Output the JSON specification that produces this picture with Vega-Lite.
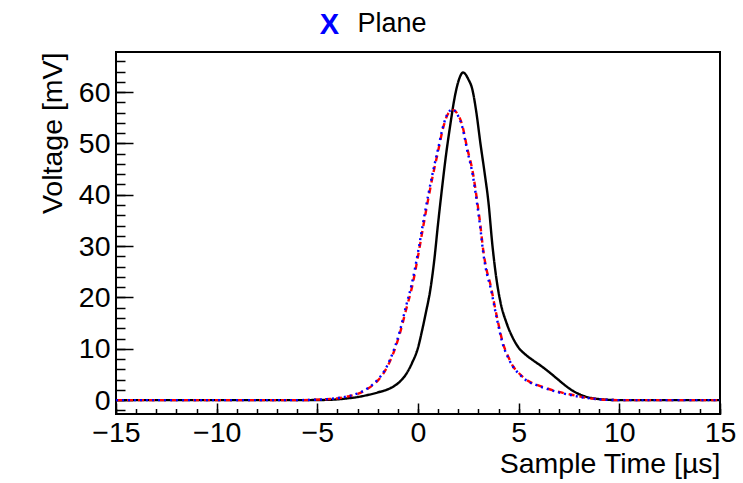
{
  "$schema": "https://vega.github.io/schema/vega-lite/v6.json",
  "width": 604,
  "height": 362,
  "autosize": {"type": "none"},
  "padding": {"left": 116, "top": 52, "right": 23, "bottom": 69},
  "background": "white",
  "config": {
    "view": {"stroke": "black", "strokeWidth": 2},
    "font": "Liberation Sans"
  },
  "datasets": {
    "curves": [
      {"series": "black", "t": -15, "v": 0},
      {"series": "black", "t": -10, "v": 0},
      {"series": "black", "t": -6, "v": 0},
      {"series": "black", "t": -4.5, "v": 0.05},
      {"series": "black", "t": -4, "v": 0.15},
      {"series": "black", "t": -3.5, "v": 0.35},
      {"series": "black", "t": -3, "v": 0.6},
      {"series": "black", "t": -2.5, "v": 1.0},
      {"series": "black", "t": -2, "v": 1.5},
      {"series": "black", "t": -1.5, "v": 2.1},
      {"series": "black", "t": -1.2, "v": 2.7},
      {"series": "black", "t": -0.9, "v": 3.6},
      {"series": "black", "t": -0.6, "v": 5.0},
      {"series": "black", "t": -0.3, "v": 7.2},
      {"series": "black", "t": 0, "v": 10.2},
      {"series": "black", "t": 0.2, "v": 13.5},
      {"series": "black", "t": 0.4, "v": 17.2},
      {"series": "black", "t": 0.6, "v": 21.2},
      {"series": "black", "t": 0.8, "v": 27},
      {"series": "black", "t": 1.0, "v": 34.5},
      {"series": "black", "t": 1.2, "v": 41.5},
      {"series": "black", "t": 1.4, "v": 48},
      {"series": "black", "t": 1.6, "v": 53.5},
      {"series": "black", "t": 1.8, "v": 58.5},
      {"series": "black", "t": 2.0, "v": 62},
      {"series": "black", "t": 2.24, "v": 63.8},
      {"series": "black", "t": 2.5, "v": 62.5},
      {"series": "black", "t": 2.7, "v": 60.5},
      {"series": "black", "t": 2.9, "v": 56},
      {"series": "black", "t": 3.1, "v": 50},
      {"series": "black", "t": 3.3, "v": 44.5},
      {"series": "black", "t": 3.5, "v": 38.5},
      {"series": "black", "t": 3.7, "v": 30},
      {"series": "black", "t": 3.9, "v": 23.5},
      {"series": "black", "t": 4.1, "v": 19},
      {"series": "black", "t": 4.4, "v": 15},
      {"series": "black", "t": 4.7, "v": 12.2},
      {"series": "black", "t": 5.0, "v": 10.2},
      {"series": "black", "t": 5.3, "v": 9.0},
      {"series": "black", "t": 5.7, "v": 7.8},
      {"series": "black", "t": 6.1, "v": 6.7},
      {"series": "black", "t": 6.5, "v": 5.5},
      {"series": "black", "t": 6.9, "v": 4.2},
      {"series": "black", "t": 7.3, "v": 2.9},
      {"series": "black", "t": 7.7, "v": 1.8},
      {"series": "black", "t": 8.1, "v": 1.0},
      {"series": "black", "t": 8.5, "v": 0.5},
      {"series": "black", "t": 9.0, "v": 0.2},
      {"series": "black", "t": 9.5, "v": 0.05},
      {"series": "black", "t": 10, "v": 0},
      {"series": "black", "t": 15, "v": 0},
      {"series": "red", "t": -15, "v": 0},
      {"series": "red", "t": -6, "v": 0},
      {"series": "red", "t": -5, "v": 0.1},
      {"series": "red", "t": -4.5, "v": 0.2},
      {"series": "red", "t": -4, "v": 0.35},
      {"series": "red", "t": -3.5, "v": 0.7},
      {"series": "red", "t": -3, "v": 1.2},
      {"series": "red", "t": -2.5, "v": 2.2},
      {"series": "red", "t": -2, "v": 3.8},
      {"series": "red", "t": -1.7, "v": 5.3},
      {"series": "red", "t": -1.4, "v": 7.5},
      {"series": "red", "t": -1.1, "v": 10.5},
      {"series": "red", "t": -0.9, "v": 13},
      {"series": "red", "t": -0.6, "v": 17.5},
      {"series": "red", "t": -0.3, "v": 22},
      {"series": "red", "t": 0, "v": 28},
      {"series": "red", "t": 0.2, "v": 32.5},
      {"series": "red", "t": 0.5, "v": 39},
      {"series": "red", "t": 0.75, "v": 44},
      {"series": "red", "t": 1.0, "v": 48.5},
      {"series": "red", "t": 1.26, "v": 53.2},
      {"series": "red", "t": 1.5, "v": 55.8},
      {"series": "red", "t": 1.74, "v": 56.5},
      {"series": "red", "t": 2.0, "v": 55.5},
      {"series": "red", "t": 2.2, "v": 53.5},
      {"series": "red", "t": 2.43, "v": 49.3},
      {"series": "red", "t": 2.73, "v": 44.2},
      {"series": "red", "t": 2.93, "v": 39},
      {"series": "red", "t": 3.1, "v": 34},
      {"series": "red", "t": 3.23, "v": 29.5},
      {"series": "red", "t": 3.4, "v": 25.5},
      {"series": "red", "t": 3.58, "v": 22.8},
      {"series": "red", "t": 3.92, "v": 16.2},
      {"series": "red", "t": 4.22, "v": 11.1},
      {"series": "red", "t": 4.5, "v": 8.3},
      {"series": "red", "t": 4.72, "v": 6.6},
      {"series": "red", "t": 5.0, "v": 5.3},
      {"series": "red", "t": 5.4, "v": 3.9},
      {"series": "red", "t": 5.9, "v": 3.0},
      {"series": "red", "t": 6.4, "v": 2.3},
      {"series": "red", "t": 7.0, "v": 1.6},
      {"series": "red", "t": 7.7, "v": 1.0},
      {"series": "red", "t": 8.3, "v": 0.5},
      {"series": "red", "t": 8.9, "v": 0.2},
      {"series": "red", "t": 9.5, "v": 0.05},
      {"series": "red", "t": 10, "v": 0},
      {"series": "red", "t": 15, "v": 0},
      {"series": "blue", "t": -15, "v": 0},
      {"series": "blue", "t": -6, "v": 0},
      {"series": "blue", "t": -5, "v": 0.1},
      {"series": "blue", "t": -4.5, "v": 0.2},
      {"series": "blue", "t": -4, "v": 0.4},
      {"series": "blue", "t": -3.5, "v": 0.75},
      {"series": "blue", "t": -3, "v": 1.3},
      {"series": "blue", "t": -2.5, "v": 2.3},
      {"series": "blue", "t": -2, "v": 4.0},
      {"series": "blue", "t": -1.7, "v": 5.5},
      {"series": "blue", "t": -1.4, "v": 7.8},
      {"series": "blue", "t": -1.1, "v": 10.9},
      {"series": "blue", "t": -0.9, "v": 13.5},
      {"series": "blue", "t": -0.6, "v": 18.2},
      {"series": "blue", "t": -0.3, "v": 22.8},
      {"series": "blue", "t": 0, "v": 28.8},
      {"series": "blue", "t": 0.2, "v": 33.3},
      {"series": "blue", "t": 0.5, "v": 39.8},
      {"series": "blue", "t": 0.75, "v": 44.6},
      {"series": "blue", "t": 1.0, "v": 49},
      {"series": "blue", "t": 1.26, "v": 53.5},
      {"series": "blue", "t": 1.5, "v": 56},
      {"series": "blue", "t": 1.72, "v": 56.6},
      {"series": "blue", "t": 2.0, "v": 55.3},
      {"series": "blue", "t": 2.2, "v": 53.2},
      {"series": "blue", "t": 2.43, "v": 48.9},
      {"series": "blue", "t": 2.73, "v": 43.6},
      {"series": "blue", "t": 2.93, "v": 38.4},
      {"series": "blue", "t": 3.1, "v": 33.4},
      {"series": "blue", "t": 3.23, "v": 29},
      {"series": "blue", "t": 3.4, "v": 25},
      {"series": "blue", "t": 3.58, "v": 22.3},
      {"series": "blue", "t": 3.92, "v": 15.8},
      {"series": "blue", "t": 4.22, "v": 10.8},
      {"series": "blue", "t": 4.5, "v": 8.1},
      {"series": "blue", "t": 4.72, "v": 6.5},
      {"series": "blue", "t": 5.0, "v": 5.2},
      {"series": "blue", "t": 5.4, "v": 3.8},
      {"series": "blue", "t": 5.9, "v": 2.9},
      {"series": "blue", "t": 6.4, "v": 2.2},
      {"series": "blue", "t": 7.0, "v": 1.5},
      {"series": "blue", "t": 7.7, "v": 0.9},
      {"series": "blue", "t": 8.3, "v": 0.45},
      {"series": "blue", "t": 8.9, "v": 0.2},
      {"series": "blue", "t": 9.5, "v": 0.05},
      {"series": "blue", "t": 10, "v": 0},
      {"series": "blue", "t": 15, "v": 0}
    ]
  },
  "data": {"name": "curves"},
  "layer": [
    {
      "mark": {"type": "line", "strokeWidth": 2.4, "interpolate": "monotone"},
      "encoding": {
        "x": {
          "field": "t", "type": "quantitative",
          "scale": {"domain": [-15, 15], "nice": false, "zero": false},
          "axis": {
            "orient": "bottom",
            "values": [-15, -10, -5, 0, 5, 10, 15],
            "tickSize": -11, "tickWidth": 1.5, "tickColor": "black",
            "domain": false, "grid": false,
            "labelFontSize": 28.5, "labelPadding": 15, "labelColor": "black",
            "labelFont": "Liberation Sans", "labelFlush": false, "labelOverlap": false,
            "title": "Sample Time [µs]",
            "titleFont": "Liberation Sans", "titleFontSize": 28.5, "titleFontWeight": "normal",
            "titleColor": "black", "titleAlign": "right", "titleAnchor": "end",
            "titleX": 604, "titleY": 58, "titleBaseline": "alphabetic"
          }
        },
        "y": {
          "field": "v", "type": "quantitative",
          "scale": {"domain": [-2.7, 67.8], "nice": false, "zero": false},
          "axis": {
            "orient": "left",
            "values": [0, 10, 20, 30, 40, 50, 60],
            "tickSize": -17, "tickWidth": 1.5, "tickColor": "black",
            "domain": false, "grid": false,
            "labelFontSize": 28.5, "labelPadding": 23, "labelColor": "black",
            "labelFont": "Liberation Sans", "labelFlush": false, "labelOverlap": false,
            "title": "Voltage [mV]",
            "titleFont": "Liberation Sans", "titleFontSize": 28.5, "titleFontWeight": "normal",
            "titleColor": "black", "titleAngle": -90, "titleAlign": "right",
            "titleX": -55, "titleY": 0, "titleBaseline": "alphabetic"
          }
        },
        "color": {
          "field": "series", "type": "nominal",
          "scale": {"domain": ["black", "red", "blue"], "range": ["#000000", "#ff0000", "#0000ff"]},
          "legend": null
        },
        "strokeDash": {
          "field": "series", "type": "nominal",
          "scale": {"domain": ["black", "red", "blue"], "range": [[1, 0], [6, 5], [2, 4]]},
          "legend": null
        }
      }
    },
    {
      "mark": {"type": "line", "opacity": 0},
      "encoding": {
        "x": {
          "field": "t", "type": "quantitative",
          "axis": {
            "orient": "bottom",
            "values": [-15, -14, -13, -12, -11, -10, -9, -8, -7, -6, -5, -4, -3, -2, -1, 0, 1, 2, 3, 4, 5, 6, 7, 8, 9, 10, 11, 12, 13, 14, 15],
            "tickSize": -5.5, "tickWidth": 1.5, "tickColor": "black",
            "labels": false, "domain": false, "grid": false, "title": null
          }
        },
        "y": {
          "field": "v", "type": "quantitative",
          "axis": {
            "orient": "left",
            "values": [-2, 0, 2, 4, 6, 8, 10, 12, 14, 16, 18, 20, 22, 24, 26, 28, 30, 32, 34, 36, 38, 40, 42, 44, 46, 48, 50, 52, 54, 56, 58, 60, 62, 64, 66],
            "tickSize": -9, "tickWidth": 1.5, "tickColor": "black",
            "labels": false, "domain": false, "grid": false, "title": null
          }
        },
        "detail": {"field": "series", "type": "nominal"}
      }
    },
    {
      "mark": {"type": "line", "opacity": 0},
      "encoding": {
        "x": {
          "field": "t", "type": "quantitative",
          "axis": {
            "orient": "top",
            "labels": false, "ticks": false, "domain": false, "grid": false,
            "title": "X",
            "titleFont": "Liberation Sans", "titleFontSize": 29, "titleFontWeight": "bold",
            "titleColor": "#0000ff", "titleAlign": "center",
            "titleX": 213, "titleY": -19, "titleBaseline": "alphabetic"
          }
        },
        "y": {"field": "v", "type": "quantitative", "axis": null},
        "detail": {"field": "series", "type": "nominal"}
      }
    },
    {
      "mark": {"type": "line", "opacity": 0},
      "encoding": {
        "x": {
          "field": "t", "type": "quantitative",
          "axis": {
            "orient": "top",
            "labels": false, "ticks": false, "domain": false, "grid": false,
            "title": "Plane",
            "titleFont": "Liberation Sans", "titleFontSize": 27, "titleFontWeight": "normal",
            "titleColor": "black", "titleAlign": "left",
            "titleX": 241, "titleY": -21, "titleBaseline": "alphabetic"
          }
        },
        "y": {"field": "v", "type": "quantitative", "axis": null},
        "detail": {"field": "series", "type": "nominal"}
      }
    }
  ],
  "resolve": {"axis": {"x": "independent", "y": "independent"}}
}
